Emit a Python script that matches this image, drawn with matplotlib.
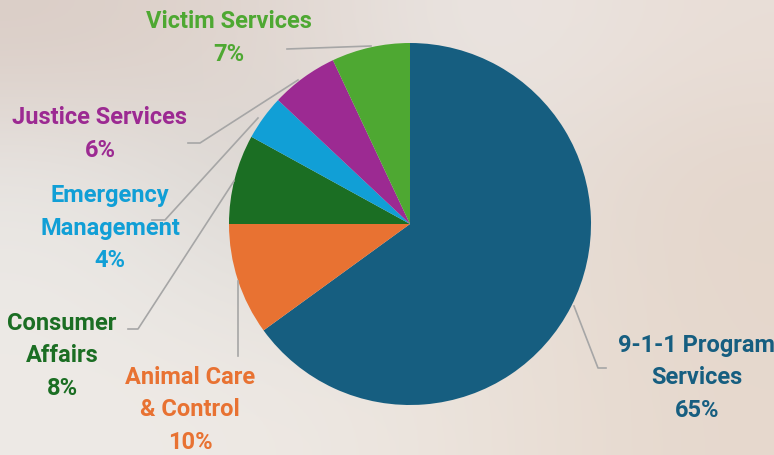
import numpy as np
import matplotlib.pyplot as plt
from matplotlib import font_manager

# -----------------------------
# DATA
# -----------------------------
labels = ["9-1-1 Program\nServices", "Animal Care\n& Control", "Consumer\nAffairs",
          "Emergency\nManagement", "Justice Services", "Victim Services"]
shares = [65, 10, 8, 4, 6, 7]
colors = ["#165e80", "#e87232", "#1b6e23", "#119fd6", "#9c2a92", "#4ea832"]

W, H = 774, 455
cx, cy, r = 410, 224, 181

# label text centres (image pixels) and leader line paths (image pixels)
label_pos = [(697, 378), (190, 410), (62, 356), (110, 228), (100, 134), (229, 38)]
leaders = [
    [(606, 368), (598, 368), (574, 306)],
    [(238, 356), (238, 281)],
    [(128, 329), (138, 329), (234, 181)],
    [(152, 220), (165, 220), (258, 118)],
    [(188, 143), (200, 143), (298, 80)],
    [(287, 49), (371, 46)],
]

names = {f.name for f in font_manager.fontManager.ttflist}
font = "Liberation Sans Narrow" if "Liberation Sans Narrow" in names else "Roboto"
fsize = 18 if font == "Liberation Sans Narrow" else 17

fig = plt.figure(figsize=(W / 100, H / 100), dpi=100)
ax = fig.add_axes([0, 0, 1, 1])

# soft photo-like background
bg = np.array([
    [[219, 206, 199], [226, 216, 210], [236, 231, 228], [233, 222, 215]],
    [[232, 229, 226], [214, 210, 206], [232, 226, 221], [228, 214, 204]],
    [[236, 233, 229], [228, 224, 220], [233, 226, 219], [229, 215, 204]],
    [[238, 234, 230], [238, 233, 228], [235, 226, 218], [230, 216, 205]],
]) / 255.0
ax.imshow(bg, extent=(0, W, H, 0), interpolation="bicubic", aspect="auto", zorder=0)

# y axis is inverted, so start at -90 and go "counterclock" to get clockwise from top
ax.pie(shares, colors=colors, startangle=-90, counterclock=True,
       center=(cx, cy), radius=r, frame=True,
       wedgeprops=dict(linewidth=0))
ax.set_xlim(0, W)
ax.set_ylim(H, 0)
ax.set_aspect("equal")
ax.axis("off")

for lab, s, col, (lx, ly) in zip(labels, shares, colors, label_pos):
    ax.text(lx, ly, f"{lab}\n{s}%", color=col, ha="center", va="center",
            fontsize=fsize, fontweight="bold", family=font,
            linespacing=1.55, zorder=5)

for path in leaders:
    xs, ys = zip(*path)
    ax.plot(xs, ys, color="#a6a6a6", lw=1.2, zorder=4)

fig.savefig("out.png", dpi=100)
